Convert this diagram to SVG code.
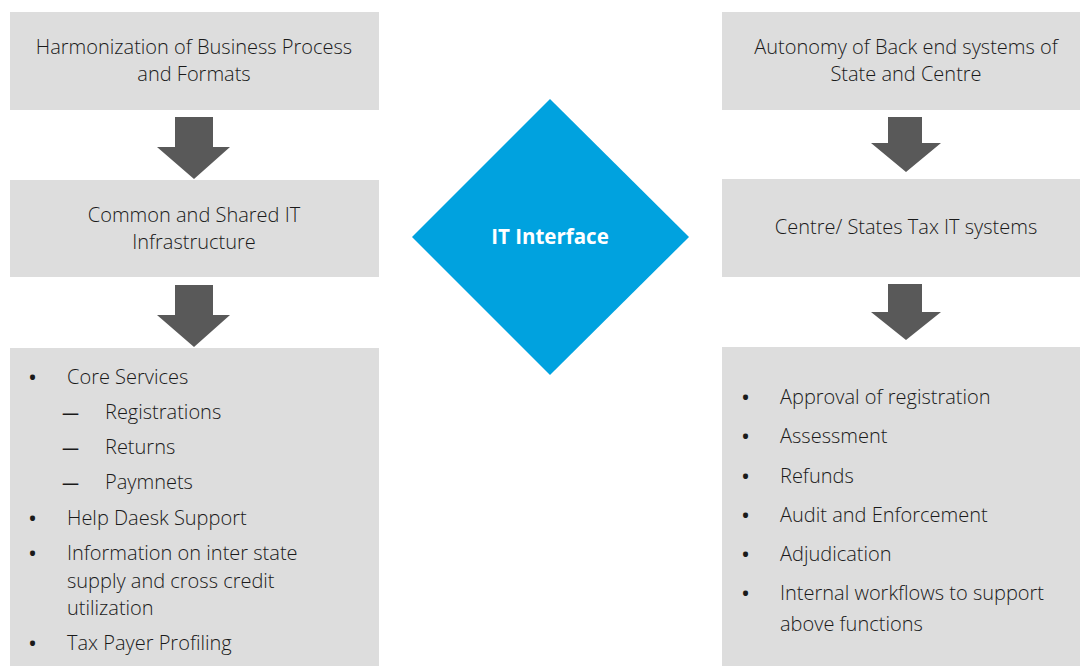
<svg xmlns="http://www.w3.org/2000/svg" width="1080" height="666" viewBox="0 0 1080 666">
  <style>
    .box { fill: #dddddd; }
    .arrow { fill: #595959; }
    .t { font-family: "Open Sans", "Noto Sans", sans-serif; font-size: 20px; font-weight: 300; fill: #1a1a1a; }
    .c { text-anchor: middle; }
    .b { font-family: "Open Sans", "Noto Sans", sans-serif; font-size: 24px; fill: #1a1a1a; }
    .d { font-family: "Open Sans", "Noto Sans", sans-serif; font-size: 17px; font-weight: 600; fill: #1a1a1a; }
    .hub { font-family: "Open Sans", "Noto Sans", sans-serif; font-size: 20.5px; font-weight: bold; fill: #ffffff; text-anchor: middle; }
  </style>
  <rect width="1080" height="666" fill="#ffffff"/>

  <!-- left column -->
  <g id="harmonization">
    <rect class="box" x="10" y="12" width="369" height="98"/>
    <text class="t c" x="194" y="54">Harmonization of Business Process</text>
    <text class="t c" x="194" y="81">and Formats</text>
  </g>
  <g id="shared-infra">
    <rect class="box" x="10" y="180" width="369" height="97"/>
    <text class="t c" x="194" y="222">Common and Shared IT</text>
    <text class="t c" x="194" y="249">Infrastructure</text>
  </g>
  <g id="core-services">
    <rect class="box" x="10" y="348" width="369" height="318"/>
    <text class="b" x="28" y="386">•</text><text class="t" x="67" y="384">Core Services</text>
    <text class="d" x="62" y="419">—</text><text class="t" x="105" y="419">Registrations</text>
    <text class="d" x="62" y="454">—</text><text class="t" x="105" y="454">Returns</text>
    <text class="d" x="62" y="489">—</text><text class="t" x="105" y="489">Paymnets</text>
    <text class="b" x="28" y="527">•</text><text class="t" x="67" y="525">Help Daesk Support</text>
    <text class="b" x="28" y="562">•</text><text class="t" x="67" y="560">Information on inter state</text>
    <text class="t" x="67" y="588">supply and cross credit</text>
    <text class="t" x="67" y="615">utilization</text>
    <text class="b" x="28" y="652">•</text><text class="t" x="67" y="650">Tax Payer Profiling</text>
  </g>

  <!-- centre -->
  <g id="it-interface">
    <polygon points="550,99 689,237 550,375 412,237" fill="#00a2df"/>
    <text class="hub" x="550" y="244">IT Interface</text>
  </g>

  <!-- right column -->
  <g id="autonomy">
    <rect class="box" x="722" y="12" width="358" height="98"/>
    <text class="t c" x="906" y="54">Autonomy of Back end systems of</text>
    <text class="t c" x="906" y="81">State and Centre</text>
  </g>
  <g id="tax-systems">
    <rect class="box" x="722" y="179" width="358" height="98"/>
    <text class="t c" x="906" y="234">Centre/ States Tax IT systems</text>
  </g>
  <g id="functions">
    <rect class="box" x="722" y="347" width="358" height="319"/>
    <text class="b" x="741" y="406">•</text><text class="t" x="780" y="404">Approval of registration</text>
    <text class="b" x="741" y="445">•</text><text class="t" x="780" y="443">Assessment</text>
    <text class="b" x="741" y="485">•</text><text class="t" x="780" y="483">Refunds</text>
    <text class="b" x="741" y="524">•</text><text class="t" x="780" y="522">Audit and Enforcement</text>
    <text class="b" x="741" y="563">•</text><text class="t" x="780" y="561">Adjudication</text>
    <text class="b" x="741" y="602">•</text><text class="t" x="780" y="600">Internal workflows to support</text>
    <text class="t" x="780" y="631">above functions</text>
  </g>

  <!-- block arrows -->
  <g id="connectors">
    <polygon class="arrow" points="175,117 213,117 213,147 230,147 194,179 157,147 175,147"/>
    <polygon class="arrow" points="175,285 213,285 213,315 230,315 194,347 157,315 175,315"/>
    <polygon class="arrow" points="888,117 922,117 922,143 941,143 906,172 871,143 888,143"/>
    <polygon class="arrow" points="888,284 922,284 922,312 941,312 906,340 871,312 888,312"/>
  </g>
</svg>
